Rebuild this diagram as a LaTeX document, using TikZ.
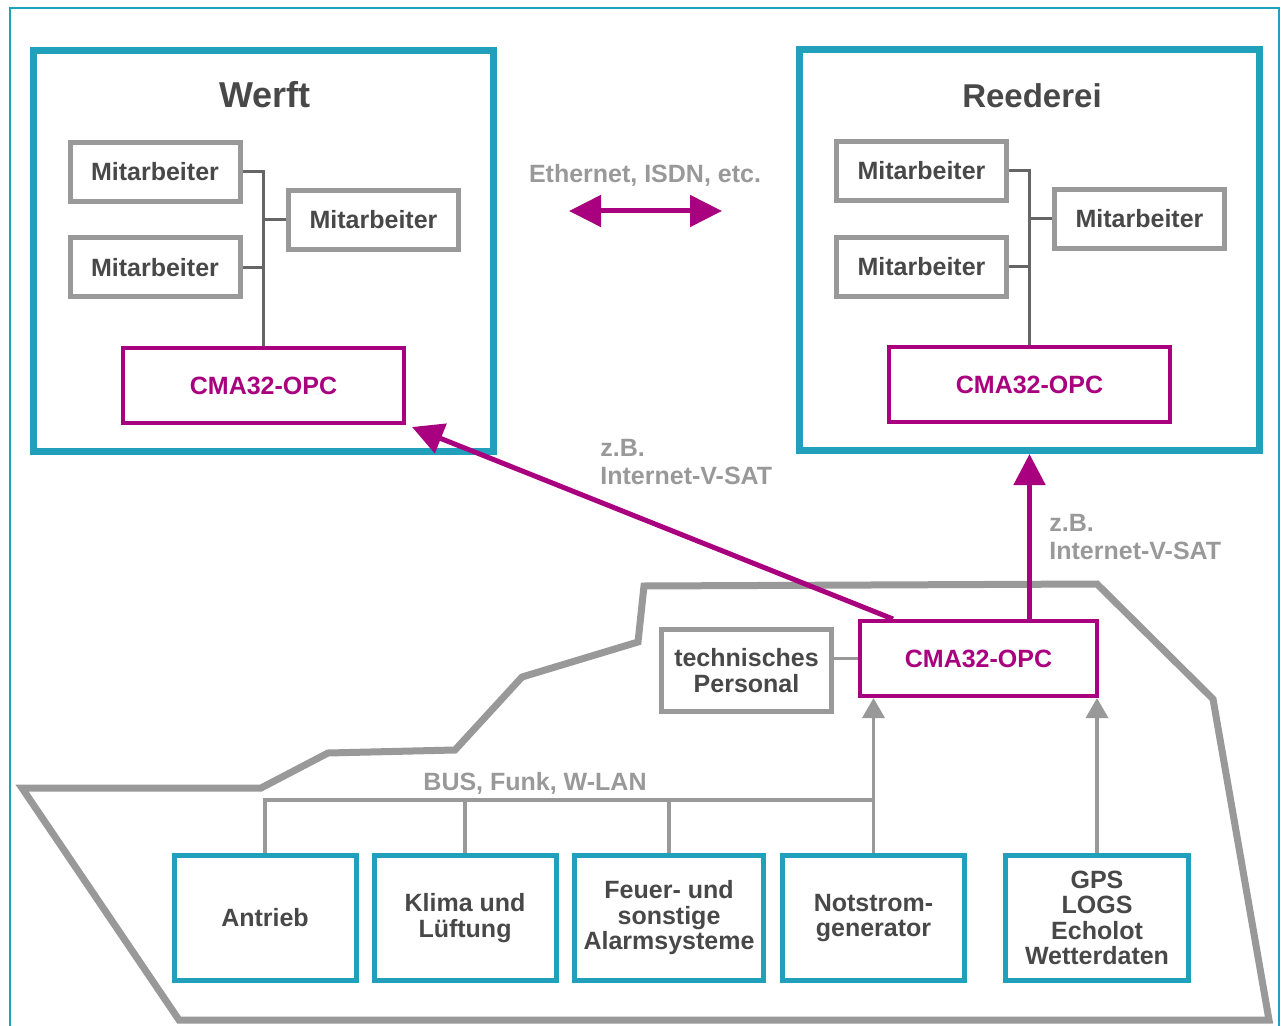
\documentclass[tikz,border=0pt]{standalone}
\usepackage{fontspec}
\setmainfont{Liberation Sans}
\usetikzlibrary{arrows.meta}
\definecolor{teal1}{RGB}{33,160,188}
\definecolor{mag}{RGB}{168,0,126}
\definecolor{lgray}{RGB}{153,153,153}
\definecolor{dgray}{RGB}{72,72,72}
\definecolor{mgray}{RGB}{102,102,102}
\tikzset{
  frame/.style={draw=teal1, line width=3.5pt, inner sep=0pt, minimum width=230pt, minimum height=200.5pt},
  titletxt/.style={text=dgray, inner sep=0pt},
  emp/.style={draw=lgray, line width=2.5pt, minimum width=85pt, minimum height=29.5pt, inner sep=0pt, text=dgray, align=center},
  cma/.style={draw=mag, line width=2pt, minimum width=140.5pt, minimum height=37.5pt, inner sep=0pt, text=mag},
  unit/.style={draw=teal1, line width=2.5pt, minimum width=91pt, minimum height=62.5pt, inner sep=0pt, text=dgray, align=center},
  lbl/.style={text=lgray, inner sep=0pt},
  trunk/.style={draw=mgray, line width=1.5pt},
  bus/.style={draw=lgray, line width=1.75pt},
  hull/.style={draw=lgray, line width=3.5pt, line join=miter},
  magarrow/.style={draw=mag, line width=2.5pt, -{Triangle[length=15.5pt,width=15.5pt]}},
  grayarrow/.style={draw=lgray, line width=1.75pt, -{Triangle[length=10pt,width=11pt]}}
}
\begin{document}
\begin{tikzpicture}[x=0.5pt, y=-0.5pt, font=\bfseries\fontsize{12.5}{12.75}\selectfont]
\useasboundingbox (0,0) rectangle (1284,1026);
\fill[white] (0,0) rectangle (1284,1026);
% outer frame
\draw[teal1, line width=1pt] (10,1030) -- (10,8) -- (1279,8) -- (1279,1030);

% ship hull
\draw[hull] (644,586) -- (1097,584) -- (1213,699) -- (1269,1020) -- (179,1020) -- (22,788) -- (261,788) -- (328,753) -- (455,750) -- (522,677) -- (638,642) -- cycle;

% Werft
\node[frame] (werft) at (263.5,251) {};
\node[titletxt, font=\bfseries\fontsize{18}{20}\selectfont] (wt) at (265,95) {Werft};
\node[emp] (w1) at (155,172) {Mitarbeiter};
\node[emp] (w2) at (373.5,220) {Mitarbeiter};
\node[emp] (w3) at (155,267.5) {Mitarbeiter};
\node[cma] (wcma) at (263.5,385.5) {CMA32-OPC};
\draw[trunk] (w1.east) -| (wcma.north);
\draw[trunk] (w2.west) -- (w2.west -| wcma.north);
\draw[trunk] (w3.east) -- (w3.east -| wcma.north);

% Reederei
\node[frame] (reed) at (1029.5,250) {};
\node[titletxt, font=\bfseries\fontsize{16.5}{18}\selectfont] (rt) at (1032,96) {Reederei};
\node[emp] (r1) at (921.5,171) {Mitarbeiter};
\node[emp] (r2) at (1139.5,219) {Mitarbeiter};
\node[emp] (r3) at (921.5,267) {Mitarbeiter};
\node[cma] (rcma) at (1029.5,384.5) {CMA32-OPC};
\draw[trunk] (r1.east) -| (rcma.north);
\draw[trunk] (r2.west) -- (r2.west -| rcma.north);
\draw[trunk] (r3.east) -- (r3.east -| rcma.north);

% Ethernet
\node[lbl] (eth) at (645,175) {Ethernet, ISDN, etc.};
\coordinate (e1) at (569,211);
\coordinate (e2) at (722,211);
\draw[mag, line width=2.5pt, {Triangle[length=16pt,width=15.5pt]}-{Triangle[length=16pt,width=15.5pt]}] (e1) -- (e2);

% ship
\node[cma, minimum width=118.5pt] (scma) at (978.5,658.5) {CMA32-OPC};
\node[emp, minimum height=41pt] (tech) at (746.5,670.5) {technisches\\Personal};
\draw[bus] (scma.west) -- (scma.west -| tech.east);

% links to shore
\coordinate (dstart) at (893,619);
\coordinate (dtip) at (412,427);
\draw[magarrow] (dstart) -- (dtip);
\draw[magarrow] (rcma.south |- scma.north) -- (rcma.south |- reed.south);
\node[lbl, align=left, anchor=north west, font=\bfseries\fontsize{12.5}{14}\selectfont] (sat1) at (600,439) {z.B.\\Internet-V-SAT};
\node[lbl, align=left, anchor=north west, font=\bfseries\fontsize{12.5}{14}\selectfont] (sat2) at (1049,514) {z.B.\\Internet-V-SAT};

% units
\node[unit] (u1) at (265,918) {Antrieb};
\node[unit] (u2) at (465,918) {Klima und\\Lüftung};
\node[unit, minimum width=94.5pt] (u3) at (669,918) {Feuer- und\\sonstige\\Alarmsysteme};
\node[unit] (u4) at (873.5,918) {Notstrom-\\generator};
\node[unit, minimum width=91.5pt] (u5) at (1097,918) {GPS\\LOGS\\Echolot\\Wetterdaten};

\coordinate (busR) at (873.5,800);
\node[lbl] (buslbl) at (535,783) {BUS, Funk, W-LAN};
\draw[bus] (u1.north) -- (u1.north |- busR) -- (busR);
\draw[bus] (u2.north) -- (u2.north |- busR);
\draw[bus] (u3.north) -- (u3.north |- busR);
\draw[grayarrow] (u4.north) -- (u4.north |- scma.south);
\draw[grayarrow] (u5.north) -- (u5.north |- scma.south);
\end{tikzpicture}
\end{document}
